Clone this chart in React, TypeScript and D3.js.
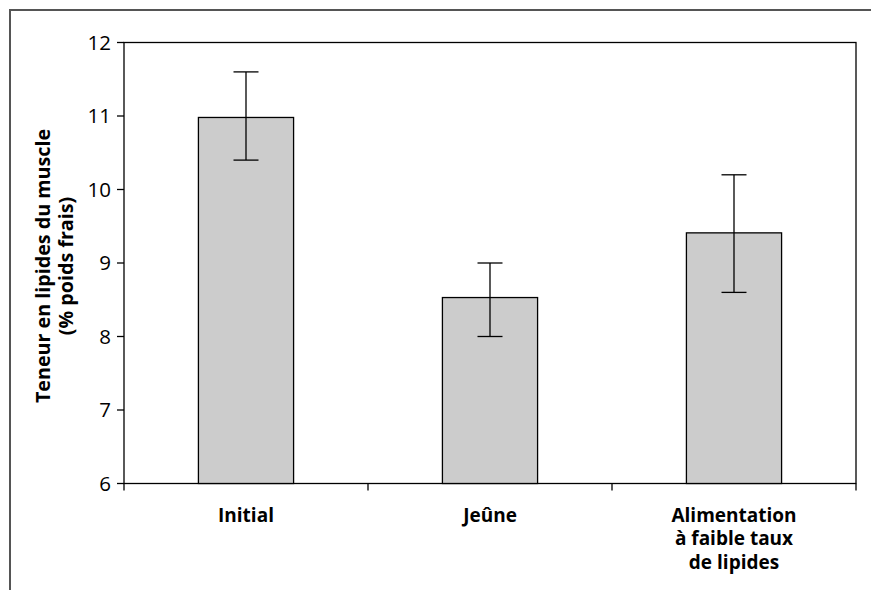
import React from "react";
import * as d3 from "d3";

const categories = ["Initial", "Jeûne", "Alimentation\nà faible taux\nde lipides"];
const values = [10.98, 8.53, 9.41];
const errLow = [10.4, 8.0, 8.6];
const errHigh = [11.6, 9.0, 10.2];
const yTicks = [6, 7, 8, 9, 10, 11, 12];
const yLabelLines = ["Teneur en lipides du muscle", "(% poids frais)"];

const W = 871;
const H = 590;
const left = 124;
const right = 856;
const top = 42.5;
const bottom = 483.5;
const font = "'Open Sans', 'Noto Sans', sans-serif";

export default function App() {
  const x = d3.scaleBand<number>().domain(d3.range(categories.length)).range([left, right]).paddingInner(0).paddingOuter(0);
  const y = d3.scaleLinear().domain([6, 12]).range([bottom, top]);
  const bw = x.bandwidth() * 0.39;
  const capW = 25;
  return (
    <svg width={W} height={H} style={{ position: "absolute", left: 0, top: 0 }}>
      <rect x={0} y={0} width={W} height={H} fill="#fff" />
      <path d={`M10,${H} V10 H${W}`} fill="none" stroke="#555" strokeWidth={2} />
      {/* plot frame */}
      <rect x={left} y={top} width={right - left} height={bottom - top} fill="none" stroke="#000" strokeWidth={1.3} />
      {/* bars */}
      {values.map((v, i) => {
        const cx = x(i)! + x.bandwidth() / 2;
        return (
          <g key={i}>
            <rect x={cx - bw / 2} y={y(v)} width={bw} height={y(6) - y(v)} fill="#cccccc" stroke="#000" strokeWidth={1.3} />
            <line x1={cx} x2={cx} y1={y(errLow[i])} y2={y(errHigh[i])} stroke="#000" strokeWidth={1.3} />
            <line x1={cx - capW / 2} x2={cx + capW / 2} y1={y(errLow[i])} y2={y(errLow[i])} stroke="#000" strokeWidth={1.3} />
            <line x1={cx - capW / 2} x2={cx + capW / 2} y1={y(errHigh[i])} y2={y(errHigh[i])} stroke="#000" strokeWidth={1.3} />
          </g>
        );
      })}
      {/* y ticks */}
      {yTicks.map((t) => (
        <g key={t}>
          <line x1={left - 7} x2={left} y1={y(t)} y2={y(t)} stroke="#000" strokeWidth={1.3} />
          <text x={left - 13} y={y(t)} dy="0.36em" textAnchor="end" fontFamily={font} fontSize={20.5} fill="#000">
            {t}
          </text>
        </g>
      ))}
      {/* x ticks */}
      {d3.range(categories.length + 1).map((i) => {
        const xx = i < categories.length ? x(i)! : right;
        return <line key={i} x1={xx} x2={xx} y1={bottom} y2={bottom + 7} stroke="#000" strokeWidth={1.3} />;
      })}
      {/* category labels */}
      {categories.map((c, i) => {
        const cx = x(i)! + x.bandwidth() / 2;
        return (
          <text key={i} textAnchor="middle" fontFamily={font} fontSize={19} fontWeight="bold" fill="#000">
            {c.split("\n").map((ln, k) => (
              <tspan key={k} x={cx} y={521.5 + k * 23.5}>
                {ln}
              </tspan>
            ))}
          </text>
        );
      })}
      {/* y label */}
      <text transform={`translate(50,266) rotate(-90)`} textAnchor="middle" fontFamily={font} fontSize={19.7} fontWeight="bold" fill="#000">
        {yLabelLines.map((ln, k) => (
          <tspan key={k} x={0} y={k * 23}>
            {ln}
          </tspan>
        ))}
      </text>
    </svg>
  );
}
